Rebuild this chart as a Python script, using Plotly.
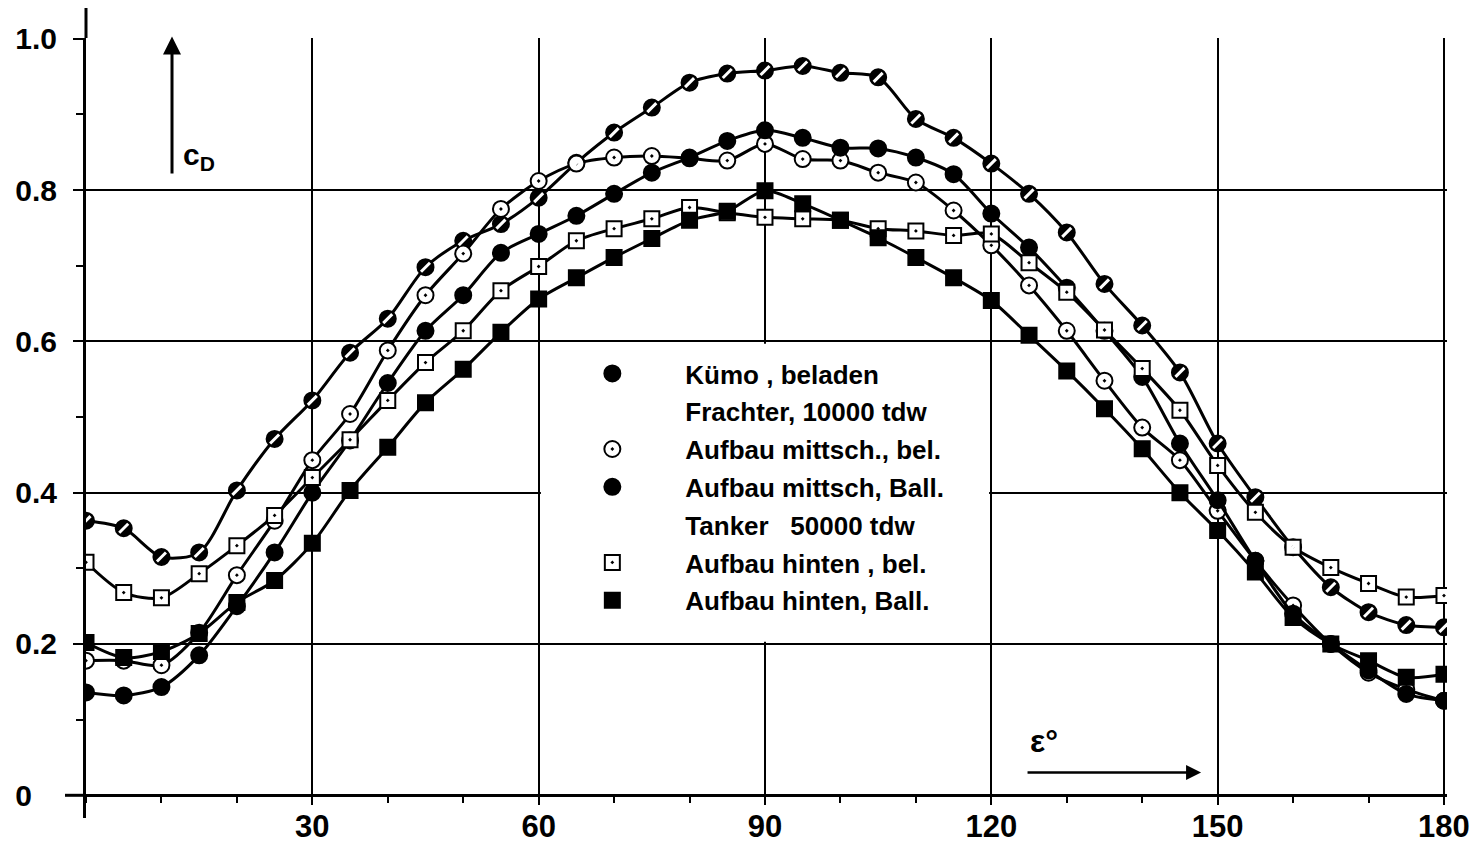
import plotly.graph_objects as go

# ---------------- data ----------------
eps = list(range(0, 181, 5))

kuemo_beladen = [0.363, 0.353, 0.315, 0.321, 0.403, 0.471, 0.522, 0.585, 0.630, 0.698,
                 0.733, 0.755, 0.790, 0.836, 0.876, 0.909, 0.942, 0.954, 0.958, 0.964,
                 0.955, 0.949, 0.894, 0.869, 0.835, 0.795, 0.744, 0.676, 0.621, 0.559,
                 0.465, 0.394, 0.328, 0.275, 0.242, 0.225, 0.222]

mittsch_bel = [0.178, 0.178, 0.172, 0.215, 0.291, 0.363, 0.443, 0.504, 0.588, 0.661,
               0.716, 0.775, 0.812, 0.835, 0.843, 0.845, 0.842, 0.839, 0.861, 0.841,
               0.839, 0.823, 0.810, 0.773, 0.727, 0.674, 0.614, 0.548, 0.486, 0.443,
               0.376, 0.310, 0.251, 0.200, 0.162, 0.140, 0.125]

mittsch_ball = [0.136, 0.132, 0.143, 0.185, 0.250, 0.321, 0.400, 0.469, 0.545, 0.614,
                0.661, 0.717, 0.742, 0.766, 0.795, 0.823, 0.843, 0.865, 0.879, 0.869,
                0.856, 0.855, 0.843, 0.821, 0.769, 0.724, 0.671, 0.614, 0.553, 0.465,
                0.390, 0.310, 0.240, 0.200, 0.165, 0.134, 0.125]

hinten_bel = [0.308, 0.268, 0.261, 0.293, 0.330, 0.370, 0.420, 0.470, 0.522, 0.572,
              0.614, 0.667, 0.699, 0.733, 0.749, 0.762, 0.777, 0.770, 0.764, 0.762,
              0.760, 0.749, 0.746, 0.740, 0.742, 0.704, 0.665, 0.615, 0.564, 0.509,
              0.436, 0.374, 0.328, 0.301, 0.280, 0.262, 0.264]

hinten_ball = [0.202, 0.182, 0.190, 0.214, 0.255, 0.284, 0.333, 0.403, 0.460, 0.519,
               0.563, 0.612, 0.656, 0.684, 0.711, 0.736, 0.760, 0.772, 0.799, 0.782,
               0.760, 0.737, 0.711, 0.684, 0.654, 0.608, 0.561, 0.511, 0.458, 0.400,
               0.350, 0.295, 0.235, 0.200, 0.178, 0.156, 0.160]

x_tickvals = [30, 60, 90, 120, 150, 180]
x_ticktext = ["30", "60", "90", "120", "150", "180"]
y_tickvals = [0, 0.2, 0.4, 0.6, 0.8, 1.0]
y_ticktext = ["0\u00a0\u00a0\u00a0", "0.2", "0.4", "0.6", "0.8", "1.0"]

legend_names = ["Kümo , beladen", "Frachter, 10000 tdw", "Aufbau mittsch., bel.",
                "Aufbau mittsch, Ball.", "Tanker   50000 tdw", "Aufbau hinten , bel.",
                "Aufbau hinten, Ball."]

# ---------------- layout geometry ----------------
X_RANGE = [0, 180.4]
Y_RANGE = [-0.03, 1.001]
W, H = 1481, 848
M_L, M_R, M_T, M_B = 86, 34, 38, 30

FONT = "Liberation Sans"
LINE_W = 3

fig = go.Figure()

styles = [
    dict(symbol="circle", size=16, color="black", line=dict(color="black", width=2)),
    None,
    dict(symbol="circle-dot", size=16, color="white", line=dict(color="black", width=2)),
    dict(symbol="circle", size=16, color="black", line=dict(color="black", width=2)),
    None,
    dict(symbol="square-dot", size=15, color="white", line=dict(color="black", width=2)),
    dict(symbol="square", size=15, color="black", line=dict(color="black", width=2)),
]
series = [kuemo_beladen, None, mittsch_bel, mittsch_ball, None, hinten_bel, hinten_ball]

# curves (no legend entries)
for ys, st in zip(series, styles):
    if ys is None:
        continue
    fig.add_trace(go.Scatter(
        x=eps, y=ys, mode="lines+markers", showlegend=False, hoverinfo="x+y",
        line=dict(color="black", width=LINE_W, shape="spline", smoothing=0.8),
        marker=st))

# white slash on the Kümo markers (half-filled look)
fig.add_trace(go.Scatter(
    x=eps, y=kuemo_beladen, mode="markers", showlegend=False, hoverinfo="skip",
    marker=dict(symbol="line-ne", size=9, line=dict(color="white", width=3))))

# legend entries (symbol only; headers without symbol)
for i, (name, st) in enumerate(zip(legend_names, styles)):
    mk = st if st is not None else dict(size=1, color="rgba(0,0,0,0)")
    fig.add_trace(go.Scatter(
        x=[None], y=[None], name=name, mode="markers", marker=mk,
        legendgroup="g%d" % i, showlegend=True))

# ---------------- axes ----------------
y_span = Y_RANGE[1] - Y_RANGE[0]
x_span = X_RANGE[1] - X_RANGE[0]
plot_w = W - M_L - M_R
plot_h = H - M_T - M_B
x_axis_pos = (0 - Y_RANGE[0]) / y_span

fig.update_xaxes(
    range=X_RANGE, anchor="free", position=x_axis_pos, automargin=False,
    tickmode="array", tickvals=x_tickvals, ticktext=x_ticktext,
    ticks="outside", ticklen=8, tickwidth=2, tickcolor="black",
    minor=dict(tickmode="linear", tick0=0, dtick=10, ticks="outside",
               ticklen=6, tickwidth=2, tickcolor="black", showgrid=False),
    showline=True, linewidth=LINE_W, linecolor="black",
    showgrid=True, gridcolor="black", gridwidth=2, zeroline=False,
    tickfont=dict(family=FONT, size=31, color="black", weight="bold"),
    ticklabelstandoff=-6, fixedrange=True)

fig.update_yaxes(
    range=Y_RANGE, automargin=False,
    tickmode="array", tickvals=y_tickvals, ticktext=y_ticktext,
    ticks="outside", ticklen=10, tickwidth=2, tickcolor="black",
    minor=dict(tickmode="linear", tick0=0, dtick=0.1, ticks="outside",
               ticklen=7, tickwidth=2, tickcolor="black", showgrid=False),
    showline=True, linewidth=LINE_W, linecolor="black",
    showgrid=True, gridcolor="black", gridwidth=2, zeroline=False,
    tickfont=dict(family=FONT, size=30, color="black", weight="bold"),
    ticklabelstandoff=10, fixedrange=True)

shapes = [
    # legend area (hides grid lines inside it)
    dict(type="rect", xref="x", yref="y", x0=60.3, x1=119.7, y0=0.203, y1=0.597,
         fillcolor="white", line=dict(width=0), layer="between"),
    # no top grid line over the c_D arrow
    dict(type="rect", xref="x", yref="y", x0=0.4, x1=29.8, y0=0.99, y1=1.01,
         fillcolor="white", line=dict(width=0), layer="between"),
    # grid lines stop at the zero line
    dict(type="rect", xref="x", yref="y", x0=0.4, x1=X_RANGE[1], y0=Y_RANGE[0], y1=-0.002,
         fillcolor="white", line=dict(width=0), layer="between"),
    # axis line extensions
    dict(type="line", xref="paper", yref="paper", x0=0, x1=0, y0=1.0, y1=1.0 + 30 / plot_h,
         line=dict(color="black", width=LINE_W)),
    dict(type="line", xref="paper", yref="paper", x0=-21 / plot_w, x1=0, y0=x_axis_pos, y1=x_axis_pos,
         line=dict(color="black", width=LINE_W)),
]

annotations = [
    dict(x=11.4, y=1.003, ax=11.4, ay=0.82, xref="x", yref="y", axref="x", ayref="y",
         text="", showarrow=True, arrowhead=2, arrowsize=1.2, arrowwidth=3, arrowcolor="black"),
    dict(x=12.6, y=0.845, xref="x", yref="y", xanchor="left", showarrow=False,
         text="c<sub>D</sub>", font=dict(family=FONT, size=30, color="black", weight="bold")),
    dict(x=147.8, y=0.030, ax=124.6, ay=0.030, xref="x", yref="y", axref="x", ayref="y",
         text="", showarrow=True, arrowhead=2, arrowsize=1.2, arrowwidth=2.5, arrowcolor="black"),
    dict(x=124.8, y=0.072, xref="x", yref="y", xanchor="left", showarrow=False,
         text="ε°", font=dict(family=FONT, size=32, color="black", weight="bold")),
]

fig.update_layout(
    width=W, height=H,
    margin=dict(l=M_L, r=M_R, t=M_T, b=M_B, autoexpand=False),
    paper_bgcolor="white", plot_bgcolor="white",
    shapes=shapes, annotations=annotations,
    showlegend=True,
    legend=dict(x=(60 - X_RANGE[0]) / x_span + 0.0005, y=(H - M_B - 350) / plot_h,
                xanchor="left", yanchor="top", bgcolor="rgba(0,0,0,0)",
                font=dict(family=FONT, size=26, color="black", weight="bold"),
                traceorder="grouped", tracegroupgap=1, itemwidth=136),
)

fig.write_html("out.html", config={"displayModeBar": False},
               post_script="document.body.style.margin='0';")
